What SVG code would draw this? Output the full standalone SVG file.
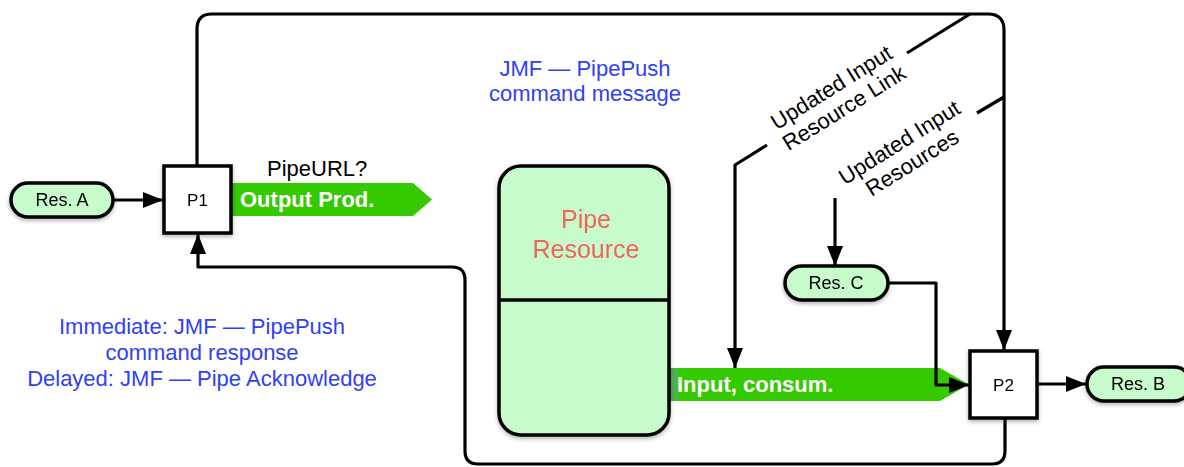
<svg xmlns="http://www.w3.org/2000/svg" width="1184" height="467" viewBox="0 0 1184 467">
<style>
.ln{fill:none;stroke:#000;stroke-width:3.2;stroke-linejoin:round}
.pill{fill:#c8fbcc;stroke:#000;stroke-width:3.5}
.box{fill:#fff;stroke:#000;stroke-width:3.5}
.t{font-family:"Liberation Sans",Arial,sans-serif;fill:#000}
.blue{font-family:"Liberation Sans",Arial,sans-serif;fill:#3041f2;font-size:22px;text-anchor:middle}
.lbl{font-family:"Liberation Sans",Arial,sans-serif;fill:#000;font-size:22px;text-anchor:middle}
.wb{font-family:"Liberation Sans",Arial,sans-serif;fill:#fff;font-weight:bold;font-size:22px}
.g{fill:#35c900}
</style>
<defs>
<marker id="ah" markerUnits="userSpaceOnUse" markerWidth="20" markerHeight="16" refX="20" refY="8" orient="auto">
<path d="M0,0 L20,8 L0,16 z" fill="#000"/>
</marker>
<filter id="sh" x="-20%" y="-20%" width="140%" height="140%">
<feDropShadow dx="0" dy="2" stdDeviation="2" flood-color="#000" flood-opacity="0.3"/>
</filter>
</defs>

<g id="output-prod">
<polygon class="g" points="232,183 413,183 432,199.5 413,216 232,216"/>
<text class="wb" x="240" y="207">Output Prod.</text>
</g>

<g id="input-consum">
<polygon class="g" points="669,368 940,368 969,384.5 940,401 669,401"/>
<rect x="669" y="368" width="9" height="33" fill="#4ab54c"/>
<text class="wb" x="677" y="392">Input, consum.</text>
</g>

<g id="connectors">
<path class="ln" d="M197,165 L197,29 Q197,14 212,14 L988,14 Q1004,14 1004,30 L1004,350" marker-end="url(#ah)"/>
<path class="ln" d="M1005,418 L1005,451 Q1005,464 992,464 L478,464 Q465,464 465,451 L465,280 Q465,267 452,267 L198,267 L198,234" marker-end="url(#ah)"/>
<path class="ln" d="M113,200 L163,200" marker-end="url(#ah)"/>
<path class="ln" d="M1038,384 L1086,384" marker-end="url(#ah)"/>
<path class="ln" d="M888,283 L936,283 L936,385 L969,385" marker-end="url(#ah)"/>
<path class="ln" d="M970,14 L907,53"/>
<path class="ln" d="M767,145 L735,165 L735,368" marker-end="url(#ah)"/>
<path class="ln" d="M1004,97 L977,113"/>
<path class="ln" d="M835,198 L835,266" marker-end="url(#ah)"/>
</g>

<g id="res-a" filter="url(#sh)">
<rect class="pill" x="11" y="183" width="102" height="34" rx="17"/>
<text class="t" x="62" y="206" font-size="18" text-anchor="middle">Res. A</text>
</g>

<g id="p1" filter="url(#sh)">
<rect class="box" x="164" y="166" width="67" height="67"/>
<text class="t" x="197.5" y="206" font-size="17" text-anchor="middle">P1</text>
</g>

<g id="pipe-resource" filter="url(#sh)">
<rect class="pill" x="499" y="166" width="170" height="269" rx="22"/>
<line x1="499" y1="300" x2="669" y2="300" stroke="#000" stroke-width="3.5"/>
<text x="586" y="228" font-family="Liberation Sans, Arial, sans-serif" font-size="25" fill="#f0655a" text-anchor="middle">Pipe</text>
<text x="586" y="258" font-family="Liberation Sans, Arial, sans-serif" font-size="25" fill="#f0655a" text-anchor="middle">Resource</text>
</g>

<g id="res-c" filter="url(#sh)">
<rect class="pill" x="785" y="266" width="103" height="34" rx="17"/>
<text class="t" x="836" y="289" font-size="18" text-anchor="middle">Res. C</text>
</g>

<g id="p2" filter="url(#sh)">
<rect class="box" x="970" y="351" width="67" height="67"/>
<text class="t" x="1003.5" y="391" font-size="17" text-anchor="middle">P2</text>
</g>

<g id="res-b" filter="url(#sh)">
<rect class="pill" x="1087" y="367" width="104" height="34" rx="17"/>
<text class="t" x="1138" y="390" font-size="18" text-anchor="middle">Res. B</text>
</g>

<g id="labels">
<text class="t" x="267" y="176" font-size="22">PipeURL?</text>
<text class="blue" x="585" y="76">JMF — PipePush</text>
<text class="blue" x="585" y="101">command message</text>
<text class="blue" x="202" y="334">Immediate: JMF — PipePush</text>
<text class="blue" x="202" y="360">command response</text>
<text class="blue" x="202" y="386">Delayed: JMF — Pipe Acknowledge</text>
<g transform="translate(838,98) rotate(-32)">
<text class="lbl" x="0" y="-5">Updated Input</text>
<text class="lbl" x="0" y="19">Resource Link</text>
</g>
<g transform="translate(906,153) rotate(-32)">
<text class="lbl" x="0" y="-5">Updated Input</text>
<text class="lbl" x="0" y="19">Resources</text>
</g>
</g>
</svg>
